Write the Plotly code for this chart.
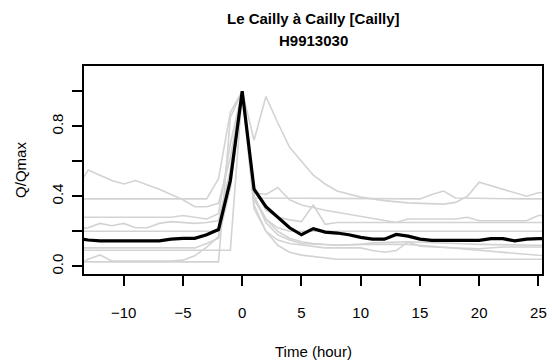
import plotly.graph_objects as go

# black reference line, one value per hour
hours = list(range(-14, 27))
mean_q = [0.16, 0.15, 0.145, 0.145, 0.145, 0.145, 0.145, 0.145, 0.155, 0.16, 0.16, 0.18, 0.21, 0.49,
          1.0, 0.44, 0.34, 0.28, 0.22, 0.18, 0.215, 0.195, 0.19, 0.18, 0.165, 0.155, 0.155, 0.182,
          0.172, 0.155, 0.148, 0.148, 0.148, 0.148, 0.148, 0.158, 0.158, 0.145, 0.155, 0.158, 0.158]

# grey events (x, y vertices)
ev1_x = [-14, -13, -11, -10, -9, -7, -5, -4, -3, -2, -1, 0, 1, 2, 3, 4, 5, 6, 7, 8, 10, 12, 14, 17, 18, 19, 20, 24, 25, 26]
ev1_y = [0.44, 0.55, 0.49, 0.47, 0.49, 0.44, 0.38, 0.34, 0.34, 0.36, 0.62, 1.0, 0.72, 0.97, 0.82, 0.68, 0.6, 0.52, 0.47,
         0.43, 0.395, 0.375, 0.362, 0.355, 0.365, 0.40, 0.48, 0.40, 0.42, 0.42]
ev2_x = [-14, -3, -2, -1, 0, 1, 15, 16, 17, 18, 24, 26]
ev2_y = [0.385, 0.385, 0.5, 0.88, 1.0, 0.39, 0.385, 0.41, 0.43, 0.39, 0.385, 0.385]
ev3_x = [-14, -6, -5, -3, -2, -1, 0, 1, 2, 3, 4, 5, 7, 10, 13, 14, 18, 19, 20, 24, 25, 26]
ev3_y = [0.28, 0.28, 0.29, 0.27, 0.3, 0.7, 1.0, 0.42, 0.41, 0.45, 0.38, 0.35, 0.32, 0.285, 0.25, 0.27, 0.27, 0.28,
         0.26, 0.26, 0.29, 0.29]
ev4_x = [-14, -13, -12, -11, -10, -9, -8, -7, -6, -4, -3, -2, -1, 0, 1, 2, 3, 4, 5, 6, 7, 8, 26]
ev4_y = [0.21, 0.22, 0.245, 0.232, 0.245, 0.22, 0.22, 0.245, 0.255, 0.245, 0.25, 0.26, 0.55, 1.0, 0.45, 0.32, 0.28,
         0.265, 0.255, 0.35, 0.24, 0.25, 0.25]
ev5_x = [-14, -2, -1, 0, 1, 2, 3, 4, 26]
ev5_y = [0.2, 0.2, 0.45, 1.0, 0.38, 0.27, 0.22, 0.2, 0.2]
ev6_x = [-14, -4, -3, -2, -1, 0, 1, 2, 3, 4, 7, 10, 11, 12, 13, 14, 15, 16, 20, 22, 25, 26]
ev6_y = [0.105, 0.105, 0.13, 0.16, 0.45, 1.0, 0.33, 0.2, 0.15, 0.13, 0.105, 0.105, 0.09, 0.08, 0.09, 0.14, 0.115,
         0.11, 0.10, 0.11, 0.11, 0.11]
ev7_x = [-14, -1, 0, 1, 2, 3, 4, 5, 8, 10, 11, 14, 18, 20, 25, 26]
ev7_y = [0.092, 0.092, 1.0, 0.4, 0.25, 0.18, 0.15, 0.13, 0.12, 0.125, 0.134, 0.14, 0.13, 0.125, 0.12, 0.12]
ev8_x = [-14, -13, -12, -11, -6, -5, -4, -3, -2, -1, 0, 1, 2, 3, 4, 5, 6, 8, 10, 14, 15, 20, 25, 26]
ev8_y = [0.0, 0.04, 0.065, 0.03, 0.03, 0.035, 0.06, 0.11, 0.17, 0.55, 1.0, 0.4, 0.27, 0.2, 0.16, 0.14, 0.13, 0.12,
         0.125, 0.125, 0.12, 0.09, 0.063, 0.06]
ev9_x = [-14, -2, -1, 0, 1, 2, 3, 4, 5, 6, 7, 8, 26]
ev9_y = [0.025, 0.025, 0.85, 1.0, 0.35, 0.2, 0.12, 0.08, 0.064, 0.055, 0.048, 0.04, 0.04]

events = [(ev1_x, ev1_y), (ev2_x, ev2_y), (ev3_x, ev3_y), (ev4_x, ev4_y), (ev5_x, ev5_y),
          (ev6_x, ev6_y), (ev7_x, ev7_y), (ev8_x, ev8_y), (ev9_x, ev9_y)]

xticks = [-10, -5, 0, 5, 10, 15, 20, 25]
yticks = [0.0, 0.2, 0.4, 0.6, 0.8, 1.0]
ylabels = ['0.0', '', '0.4', '', '0.8', '']

font = 'Liberation Sans, Arial, sans-serif'

fig = go.Figure()
for ex, ey in events:
    fig.add_trace(go.Scatter(x=ex, y=ey, mode='lines', line=dict(color='#d3d3d3', width=1.6),
                             showlegend=False, hoverinfo='skip'))
fig.add_trace(go.Scatter(x=hours, y=mean_q, mode='lines', line=dict(color='black', width=3.2),
                         showlegend=False))

fig.update_layout(
    width=552, height=360,
    margin=dict(l=84, r=5, t=66, b=86),
    paper_bgcolor='white', plot_bgcolor='white',
    font=dict(family=font, size=15, color='black'),
    showlegend=False)
fig.update_xaxes(range=[-13.35, 25.3], tickmode='array', tickvals=xticks, showgrid=False, zeroline=False,
                 showline=True, mirror=True, linecolor='black', linewidth=1.5,
                 ticks='outside', ticklen=10, tickwidth=1.5, tickcolor='black', ticklabelstandoff=14)
fig.update_yaxes(range=[-0.044, 1.144], tickmode='array', tickvals=yticks, ticktext=ylabels, tickangle=-90,
                 showgrid=False, zeroline=False, showline=True, mirror=True, linecolor='black', linewidth=1.5,
                 ticks='outside', ticklen=10, tickwidth=1.5, tickcolor='black', ticklabelstandoff=3)

fig.add_annotation(text='<b>Le Cailly à Cailly [Cailly]</b>', xref='paper', yref='paper', x=0.5, y=1.227,
                   xanchor='center', yanchor='middle', showarrow=False, font=dict(size=15))
fig.add_annotation(text='<b>H9913030</b>', xref='paper', yref='paper', x=0.5, y=1.125,
                   xanchor='center', yanchor='middle', showarrow=False, font=dict(size=15))
fig.add_annotation(text='Time (hour)', xref='paper', yref='paper', x=0.5, y=-0.372,
                   xanchor='center', yanchor='middle', showarrow=False, font=dict(size=15))
fig.add_annotation(text='Q/Qmax', xref='paper', yref='paper', x=-0.14, y=0.5, textangle=-90,
                   xanchor='center', yanchor='middle', showarrow=False, font=dict(size=15))

fig.write_html("out.html", config={'displayModeBar': False},
               post_script="document.body.style.margin='0';document.body.style.overflow='hidden';")
